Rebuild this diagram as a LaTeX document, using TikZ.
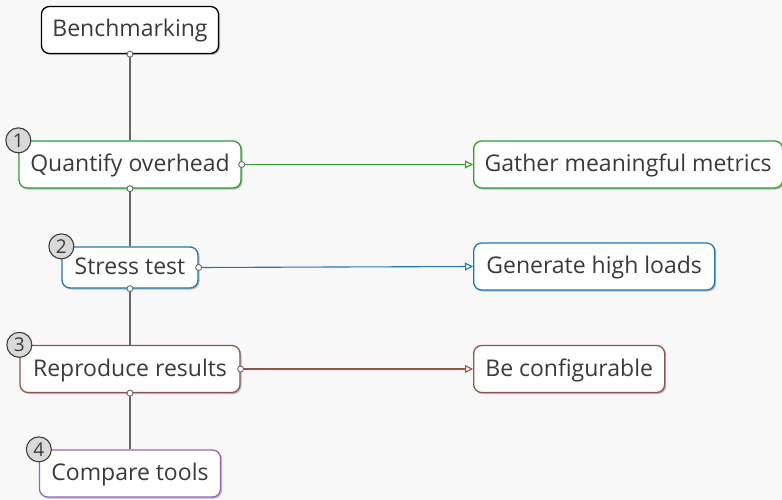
\documentclass[tikz,border=0pt]{standalone}
\usepackage{fontspec}
\setmainfont{Open Sans}
\usetikzlibrary{arrows.meta,shadows}
\definecolor{bg}{HTML}{F8F8F8}
\definecolor{txt}{HTML}{3A3A3A}
\definecolor{edge}{HTML}{666666}
\definecolor{cgreen}{HTML}{2CA02C}
\definecolor{cblue}{HTML}{1F77B4}
\definecolor{cbrown}{HTML}{8C564B}
\definecolor{cpurple}{HTML}{9467BD}
\definecolor{badge}{HTML}{D9D9D9}
\tikzset{
  topic/.style={draw, rounded corners=8pt, fill=white, line width=1.3pt,
    minimum height=47pt, inner xsep=11pt, inner ysep=0pt,
    text height=17pt, text depth=3pt,
    font=\fontsize{23}{27}\selectfont, text=txt,
    drop shadow={shadow xshift=1.5pt, shadow yshift=-1.5pt, opacity=0.25, fill=black}},
  badgec/.style={circle, draw=txt, fill=badge, line width=1.1pt, inner sep=0pt,
    minimum size=25pt, font=\fontsize{19}{19}\selectfont, text=txt},
  conn/.style={draw=edge, line width=1.3pt},
  link/.style={line width=1.1pt, -{Triangle[open, length=8pt, width=8pt]}},
  knob/.style={circle, draw=edge, fill=white, line width=0.9pt, inner sep=0pt, minimum size=6pt}
}
\begin{document}
\begin{tikzpicture}[x=1pt, y=-1pt]
\fill[bg] (0,0) rectangle (782,500);
\useasboundingbox (0,0) rectangle (782,500);

% main branch
\node[topic, draw=black, minimum width=177pt] (root) at (130,30) {Benchmarking};
\node[topic, draw=cgreen, minimum width=222pt] (q) at (130,164.5) {Quantify overhead};
\node[topic, draw=cblue, minimum width=136pt, minimum height=41pt] (s) at (130,267.5) {Stress test};
\node[topic, draw=cbrown, minimum width=220pt] (r) at (130,369) {Reproduce results};
\node[topic, draw=cpurple, minimum width=181pt] (c) at (130,473.5) {Compare tools};

% side topics
\node[topic, draw=cgreen, anchor=west, minimum width=309pt] (g) at (473,164.5) {Gather meaningful metrics};
\node[topic, draw=cblue, anchor=west, minimum width=241pt] (h) at (473,266.5) {Generate high loads};
\node[topic, draw=cbrown, anchor=west, minimum width=191pt] (b) at (473,369) {Be configurable};

% numbering badges
\node[badgec] (n1) at (q.north west) {1};
\node[badgec] (n2) at (s.north west) {2};
\node[badgec] (n3) at (r.north west) {3};
\node[badgec] (n4) at (c.north west) {4};

% vertical spine
\draw[conn] (root.south) -- (q.north);
\draw[conn] (q.south) -- (s.north);
\draw[conn] (s.south) -- (r.north);
\draw[conn] (r.south) -- (c.north);

% horizontal links
\draw[link, cgreen] (q.east) -- (g.west);
\draw[link, cblue] (s.east) -- (h.west);
\draw[link, cbrown] (r.east) -- (b.west);

% connection knobs
\node[knob] (k1) at (root.south) {};
\node[knob] (k2) at (q.south) {};
\node[knob] (k3) at (s.south) {};
\node[knob] (k4) at (r.south) {};
\node[knob] (k5) at (q.east) {};
\node[knob] (k6) at (s.east) {};
\node[knob] (k7) at (r.east) {};
\end{tikzpicture}
\end{document}
